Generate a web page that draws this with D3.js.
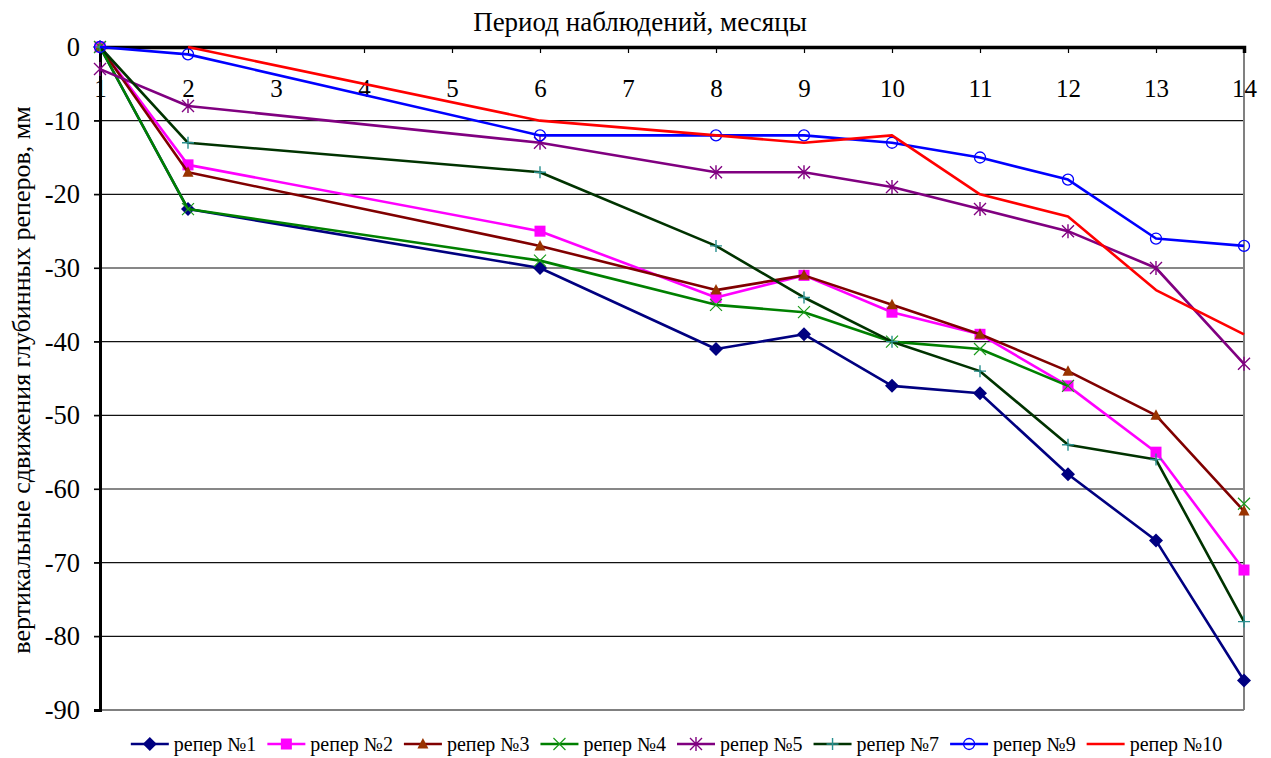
<!DOCTYPE html>
<html>
<head>
<meta charset="utf-8">
<script src="https://cdn.jsdelivr.net/npm/d3@7"></script>
<style>
  html, body { margin: 0; padding: 0; background: #fff; }
</style>
</head>
<body>
<svg id="chart" width="1271" height="758"></svg>
<script>
// Observation months (category positions on the top axis)
const categories = [1, 2, 3, 4, 5, 6, 7, 8, 9, 10, 11, 12, 13, 14];
// Months in which the benchmarks were measured
const months = [1, 2, 6, 8, 9, 10, 11, 12, 13, 14];
// Vertical displacement of the deep benchmarks, mm (null = no measurement)
const reper1  = [0, -22, -30, -41, -39, -46, -47, -58, -67, -86];
const reper2  = [0, -16, -25, -34, -31, -36, -39, -46, -55, -71];
const reper3  = [0, -17, -27, -33, -31, -35, -39, -44, -50, -63];
const reper4  = [0, -22, -29, -35, -36, -40, -41, -46, null, -62];
const reper5  = [-3, -8, -13, -17, -17, -19, -22, -25, -30, -43];
const reper7  = [0, -13, -17, -27, -34, -40, -44, -54, -56, -78];
const reper9  = [0, -1, -12, -12, -12, -13, -15, -18, -26, -27];
const reper10 = [null, 0, -10, -12, -13, -12, -20, -23, -33, -39];
const yTicks = [0, -10, -20, -30, -40, -50, -60, -70, -80, -90];
const seriesNames = ["репер №1", "репер №2", "репер №3", "репер №4", "репер №5", "репер №7", "репер №9", "репер №10"];

const series = [
  { name: seriesNames[0], values: reper1,  color: "#000080", marker: "diamond",  mcolor: "#000080" },
  { name: seriesNames[1], values: reper2,  color: "#ff00ff", marker: "square",   mcolor: "#ff00ff" },
  { name: seriesNames[2], values: reper3,  color: "#800000", marker: "triangle", mcolor: "#993300" },
  { name: seriesNames[3], values: reper4,  color: "#008000", marker: "x",        mcolor: "#1a9a1a" },
  { name: seriesNames[4], values: reper5,  color: "#800080", marker: "star",     mcolor: "#800080" },
  { name: seriesNames[5], values: reper7,  color: "#003300", marker: "plus",     mcolor: "#2a9090" },
  { name: seriesNames[6], values: reper9,  color: "#0000ff", marker: "circle",   mcolor: "#0000ff" },
  { name: seriesNames[7], values: reper10, color: "#ff0000", marker: "none",     mcolor: "#ff0000" }
];

const FONT = '"Liberation Serif", "Times New Roman", serif';
const svg = d3.select("#chart");
const plot = { left: 100, right: 1244, top: 47, bottom: 710 };

const x = d3.scaleLinear().domain([1, 14]).range([plot.left, plot.right]);
const y = d3.scaleLinear().domain([-90, 0]).range([plot.bottom, plot.top]);

// Horizontal gridlines
svg.append("g")
  .selectAll("line")
  .data(yTicks.filter(v => v !== 0 && v !== -90))
  .join("line")
  .attr("x1", plot.left - 6).attr("x2", plot.right)
  .attr("y1", d => y(d)).attr("y2", d => y(d))
  .attr("stroke", "#111").attr("stroke-width", 1.2);

// Plot frame: right and bottom sides
svg.append("line")
  .attr("x1", plot.left).attr("x2", plot.right)
  .attr("y1", plot.bottom).attr("y2", plot.bottom)
  .attr("stroke", "#808080").attr("stroke-width", 2);
svg.append("line")
  .attr("x1", plot.right).attr("x2", plot.right)
  .attr("y1", plot.top).attr("y2", plot.bottom)
  .attr("stroke", "#808080").attr("stroke-width", 2);

// Top category axis (labels hang below the line, inside the plot)
const xAxis = d3.axisBottom(x).tickValues(categories).tickSize(6).tickPadding(26)
  .tickFormat(d3.format("d"));
const gx = svg.append("g").attr("transform", `translate(0,${plot.top})`).call(xAxis)
  .attr("font-family", FONT).attr("font-size", 25);
gx.select(".domain").attr("stroke", "#000").attr("stroke-width", 3.5);
gx.selectAll(".tick line").attr("stroke", "#000").attr("stroke-width", 1.2);
gx.selectAll(".tick text").style("font-family", FONT).attr("fill", "#000");

// Left value axis (drawn over the first category label)
const yAxis = d3.axisLeft(y).tickValues(yTicks).tickSize(6).tickPadding(14)
  .tickFormat(d => String(d));
const gy = svg.append("g").attr("transform", `translate(${plot.left},0)`).call(yAxis)
  .attr("font-family", FONT).attr("font-size", 26.5);
gy.select(".domain").attr("stroke", "#000").attr("stroke-width", 3);
gy.selectAll(".tick line").attr("stroke", "#000").attr("stroke-width", 1.2);
gy.selectAll(".tick text").style("font-family", FONT).attr("fill", "#000");

// Titles
svg.append("text")
  .attr("x", 640).attr("y", 31)
  .attr("text-anchor", "middle")
  .attr("font-size", 27)
  .style("font-family", FONT)
  .text("Период наблюдений, месяцы");
svg.append("text")
  .attr("transform", `translate(30,380) rotate(-90)`)
  .attr("text-anchor", "middle")
  .attr("font-size", 26)
  .style("font-family", FONT)
  .text("вертикальные сдвижения глубинных реперов, мм");

// Marker drawing
function drawMarker(g, type, color, cx, cy) {
  const m = g.append("g").attr("transform", `translate(${cx},${cy})`);
  switch (type) {
    case "diamond":
      m.append("path").attr("d", "M0,-7L7,0L0,7L-7,0Z").attr("fill", color);
      break;
    case "square":
      m.append("rect").attr("x", -5.5).attr("y", -5.5).attr("width", 11).attr("height", 11).attr("fill", color);
      break;
    case "triangle":
      m.append("path").attr("d", "M0,-6L5.5,4.5L-5.5,4.5Z").attr("fill", color);
      break;
    case "x":
      m.append("path").attr("d", "M-6,-6L6,6M-6,6L6,-6").attr("stroke", color).attr("stroke-width", 1.2);
      break;
    case "star":
      m.append("path").attr("d", "M-6,-6L6,6M-6,6L6,-6M0,-7L0,7").attr("stroke", color).attr("stroke-width", 1.4);
      break;
    case "plus":
      m.append("path").attr("d", "M-6,0L6,0M0,-6L0,6").attr("stroke", color).attr("stroke-width", 1.4);
      break;
    case "circle":
      m.append("circle").attr("r", 5.5).attr("fill", "none").attr("stroke", color).attr("stroke-width", 1.3);
      break;
  }
}

// Series lines and markers
const line = d3.line()
  .defined(d => d.v !== null)
  .x(d => x(d.m))
  .y(d => y(d.v));

const gSeries = svg.append("g");
series.forEach(s => {
  const pts = months.map((m, i) => ({ m, v: s.values[i] }));
  const g = gSeries.append("g");
  g.append("path")
    .datum(pts)
    .attr("d", line)
    .attr("fill", "none")
    .attr("stroke", s.color)
    .attr("stroke-width", 2.6)
    .attr("stroke-linejoin", "round");
  pts.filter(p => p.v !== null).forEach(p => drawMarker(g, s.marker, s.mcolor, x(p.m), y(p.v)));
});

// Legend
const legend = svg.append("g");
const legendY = 744;
let cursor = 0;
const items = [];
series.forEach(s => {
  const item = legend.append("g");
  item.append("line")
    .attr("x1", 0).attr("x2", 38).attr("y1", 0).attr("y2", 0)
    .attr("stroke", s.color).attr("stroke-width", 2.6);
  drawMarker(item, s.marker, s.mcolor, 19, 0);
  const t = item.append("text")
    .attr("x", 43).attr("y", 6.5)
    .attr("font-size", 20)
    .style("font-family", FONT)
    .text(s.name);
  const w = 43 + t.node().getComputedTextLength();
  items.push({ item, offset: cursor });
  cursor += w + 11;
});
const total = cursor - 11;
const startX = (125 + 1228) / 2 - total / 2;
items.forEach(it => it.item.attr("transform", `translate(${startX + it.offset},${legendY})`));
</script>
</body>
</html>
